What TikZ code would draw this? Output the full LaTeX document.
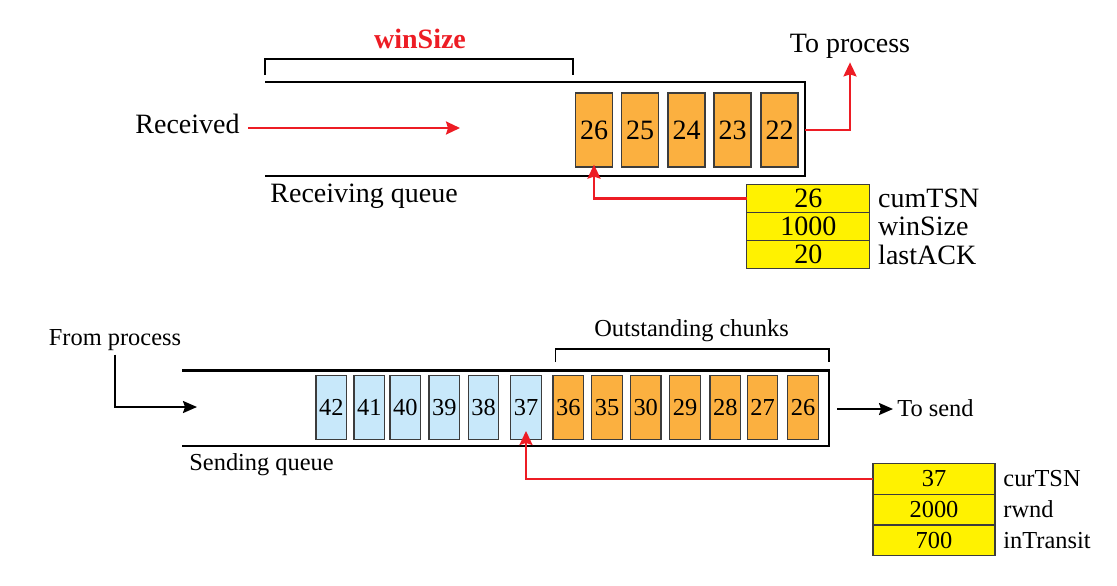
\documentclass[tikz,border=0pt]{standalone}
\usepackage{fontspec}
\setmainfont{Liberation Serif}
\usetikzlibrary{positioning,arrows.meta}
\definecolor{chunkorange}{RGB}{251,176,64}
\definecolor{chunkblue}{RGB}{200,232,250}
\definecolor{tableyellow}{RGB}{255,242,0}
\definecolor{ackred}{RGB}{237,28,36}
\definecolor{boxline}{RGB}{60,60,60}
\newcommand{\rqfont}{\fontsize{14}{16}\selectfont}
\newcommand{\sqfont}{\fontsize{12.2}{14}\selectfont}

\begin{document}
\begin{tikzpicture}[x=0.5pt,y=-0.5pt,
  queue/.style={line width=1.2pt},
  brace/.style={line width=0.6pt},
  lbl/.style={inner sep=2pt},
  rchunk/.style={draw=boxline,line width=0.6pt,fill=chunkorange,minimum width=18.5pt,minimum height=37pt,inner sep=0pt,font=\rqfont},
  schunk/.style={draw=boxline,line width=0.6pt,fill=chunkorange,minimum width=15.25pt,minimum height=31.75pt,inner sep=0pt,font=\sqfont},
  newchunk/.style={schunk,fill=chunkblue},
  rcell/.style={draw=boxline,line width=0.6pt,fill=tableyellow,minimum width=61.5pt,minimum height=14pt,inner sep=0pt,outer sep=0pt,font=\rqfont},
  scell/.style={rcell,minimum width=61pt,minimum height=15.4pt,font=\sqfont},
  redarrow/.style={ackred,line width=1.2pt,-{Stealth[length=7pt,width=6.5pt,inset=1pt]}},
  blackarrow/.style={line width=1pt,-{Stealth[length=7pt,width=6pt,inset=1pt]}}]
  \useasboundingbox (0,0) rectangle (1117,585);

  % receiving side
  \draw[queue] (265,82) -- (805,82) -- (805,176) -- (265,176);
  \node[rchunk] (r26) at (594,130) {26};
  \node[rchunk] (r25) at (640,130) {25};
  \node[rchunk] (r24) at (686.5,130) {24};
  \node[rchunk] (r23) at (732.5,130) {23};
  \node[rchunk] (r22) at (779.5,130) {22};
  \draw[brace] (265,75) |- (573,59) -- (573,75);
  \node[font=\rqfont\bfseries,text=ackred,anchor=base] (winlbl) at (420,48) {winSize};
  \node[lbl,font=\rqfont,anchor=base east] (recv) at (244,133) {Received};
  \coordinate (recvend) at (460,128);
  \draw[redarrow,shorten <=2pt] (recv.east |- recvend) -- (recvend);
  \node[lbl,font=\rqfont,anchor=base west] (rqlbl) at (266,202) {Receiving queue};
  \node[lbl,font=\rqfont,anchor=base] (toproc) at (850,52) {To process};
  \coordinate (rqright) at (805,130);
  \draw[redarrow] (rqright) -| (toproc.south);

  \node[rcell] (cum) at (808.3,198.5) {26};
  \node[rcell,below=0pt of cum] (win) {1000};
  \node[rcell,below=0pt of win] (lack) {20};
  \node[lbl,font=\rqfont,right=2pt of cum] (cumlbl) {cumTSN};
  \node[lbl,font=\rqfont,right=2pt of win] (winsizelbl) {winSize};
  \node[lbl,font=\rqfont,right=2pt of lack] (lacklbl) {lastACK};
  \draw[redarrow,shorten >=-1.5pt] (cum.west) -| (r26.south);

  % sending side
  \draw[queue] (182,370.5) -- (829,370.5) -- (829,446) -- (182,446);
  \node[newchunk] (s42) at (331.3,407.6) {42};
  \node[newchunk] (s41) at (369.3,407.6) {41};
  \node[newchunk] (s40) at (405.3,407.6) {40};
  \node[newchunk] (s39) at (444.3,407.6) {39};
  \node[newchunk] (s38) at (483.5,407.6) {38};
  \node[newchunk] (s37) at (526,407.6) {37};
  \node[schunk] (s36) at (568.3,407.6) {36};
  \node[schunk] (s35) at (607,407.6) {35};
  \node[schunk] (s30) at (645.7,407.6) {30};
  \node[schunk] (s29) at (685,407.6) {29};
  \node[schunk] (s28) at (725.3,407.6) {28};
  \node[schunk] (s27) at (762.5,407.6) {27};
  \node[schunk] (s26) at (803,407.6) {26};
  \draw[brace] (555.7,362) |- (829,349) -- (829,362);
  \node[font=\sqfont,anchor=base] (outlbl) at (691.5,336) {Outstanding chunks};
  \node[lbl,font=\sqfont,anchor=base] (fromproc) at (115,345) {From process};
  \coordinate (sqin) at (197,407);
  \draw[blackarrow] (fromproc.south) |- (sqin);
  \node[lbl,font=\sqfont,anchor=base west] (sqlbl) at (185,470) {Sending queue};
  \node[lbl,font=\sqfont,anchor=base west] (tosend) at (893,416) {To send};
  \coordinate (sqright) at (837,409);
  \draw[blackarrow] (sqright) -- (tosend.west |- sqright);

  \node[scell] (cur) at (934,478.7) {37};
  \node[scell,below=0pt of cur] (rwnd) {2000};
  \node[scell,below=0pt of rwnd] (transit) {700};
  \node[lbl,font=\sqfont,right=2pt of cur] (curlbl) {curTSN};
  \node[lbl,font=\sqfont,right=2pt of rwnd] (rwndlbl) {rwnd};
  \node[lbl,font=\sqfont,right=2pt of transit] (transitlbl) {inTransit};
  \draw[redarrow,shorten >=-4.5pt] (cur.west) -| (s37.south);
\end{tikzpicture}
\end{document}
